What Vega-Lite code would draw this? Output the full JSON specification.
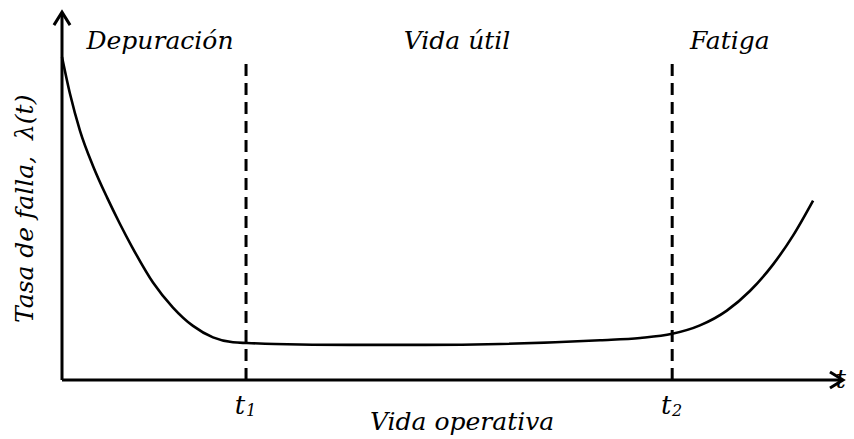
{
  "$schema": "https://vega.github.io/schema/vega-lite/v6.json",
  "width": 854,
  "height": 439,
  "padding": 0,
  "autosize": {"type": "fit", "contains": "padding"},
  "background": "white",
  "config": {"view": {"stroke": null}},
  "datasets": {
    "curve": [
      {"t": 0, "rate": 73.58},
      {"t": 1.87, "rate": 65.19},
      {"t": 4.22, "rate": 56.77},
      {"t": 7.26, "rate": 48.77},
      {"t": 10.54, "rate": 41.59},
      {"t": 13.58, "rate": 35.54},
      {"t": 16.39, "rate": 30.34},
      {"t": 21.31, "rate": 22.21},
      {"t": 25.99, "rate": 16.51},
      {"t": 30.68, "rate": 12.32},
      {"t": 35.36, "rate": 9.72},
      {"t": 40.05, "rate": 8.59},
      {"t": 43.33, "rate": 8.43},
      {"t": 49.88, "rate": 8.2},
      {"t": 67.4, "rate": 8.0},
      {"t": 85.0, "rate": 8.0},
      {"t": 102.6, "rate": 8.2},
      {"t": 126.0, "rate": 9.05},
      {"t": 135.4, "rate": 9.57},
      {"t": 142.9, "rate": 10.52},
      {"t": 149.4, "rate": 12.44},
      {"t": 155.7, "rate": 15.81},
      {"t": 161.1, "rate": 20.27},
      {"t": 166.5, "rate": 26.29},
      {"t": 171.2, "rate": 32.89},
      {"t": 175.9, "rate": 40.87}
    ],
    "axes": [
      {"t": 0, "rate": 0, "t2": 0, "rate2": 83.3},
      {"t": 0, "rate": 0, "t2": 182.5, "rate2": 0}
    ],
    "bounds": [
      {"t": 43.1, "rate": 0, "rate2": 73.6},
      {"t": 142.9, "rate": 0, "rate2": 73.6}
    ],
    "arrowUp": [{"t": 0, "rate": 83.8}],
    "arrowRight": [{"t": 182.9, "rate": 0}],
    "phases": [
      {"t": 22.95, "rate": 77.3, "label": "Depuración"},
      {"t": 92.5, "rate": 77.3, "label": "Vida útil"},
      {"t": 156.4, "rate": 77.3, "label": "Fatiga"},
      {"t": 93.7, "rate": -9.6, "label": "Vida operativa"}
    ],
    "tmain": [
      {"t": 43.1, "rate": -5.9, "label": "t"},
      {"t": 142.9, "rate": -5.9, "label": "t"},
      {"t": 183.8, "rate": 0, "label": "t"}
    ],
    "tsub": [
      {"t": 43.1, "rate": -7.0, "label": "1"},
      {"t": 142.9, "rate": -7.0, "label": "2"}
    ],
    "ytitle": [{"t": -8.7, "rate": 39.0, "label": "Tasa de falla,\u00a0\u00a0λ(t)"}]
  },
  "encoding": {
    "x": {"field": "t", "type": "quantitative", "scale": {"domain": [-14.52, 185.48], "nice": false, "zero": false}, "axis": null},
    "y": {"field": "rate", "type": "quantitative", "scale": {"domain": [-13.44, 86.56], "nice": false, "zero": false}, "axis": null}
  },
  "layer": [
    {
      "data": {"name": "axes"},
      "mark": {"type": "rule", "stroke": "black", "strokeWidth": 3},
      "encoding": {"x2": {"field": "t2"}, "y2": {"field": "rate2"}}
    },
    {
      "data": {"name": "bounds"},
      "mark": {"type": "rule", "stroke": "black", "strokeWidth": 3, "strokeDash": [12, 7]},
      "encoding": {"y2": {"field": "rate2"}}
    },
    {
      "data": {"name": "curve"},
      "mark": {"type": "line", "stroke": "black", "strokeWidth": 2.6, "interpolate": "monotone"},
      "encoding": {}
    },
    {
      "data": {"name": "arrowUp"},
      "mark": {"type": "point", "shape": "M-0.62,1L0,0L0.62,1", "size": 676, "filled": false, "stroke": "black", "strokeWidth": 3, "opacity": 1},
      "encoding": {}
    },
    {
      "data": {"name": "arrowRight"},
      "mark": {"type": "point", "shape": "M-1,-0.62L0,0L-1,0.62", "size": 676, "filled": false, "stroke": "black", "strokeWidth": 3, "opacity": 1},
      "encoding": {}
    },
    {
      "data": {"name": "phases"},
      "mark": {"type": "text", "font": "DejaVu Serif", "fontStyle": "italic", "fontSize": 25, "align": "center", "baseline": "middle", "color": "black"},
      "encoding": {"text": {"field": "label"}}
    },
    {
      "data": {"name": "tmain"},
      "mark": {"type": "text", "font": "DejaVu Serif", "fontStyle": "italic", "fontSize": 26, "align": "center", "baseline": "middle", "dx": -6, "color": "black"},
      "encoding": {"text": {"field": "label"}}
    },
    {
      "data": {"name": "tsub"},
      "mark": {"type": "text", "font": "DejaVu Serif", "fontStyle": "italic", "fontSize": 16, "align": "center", "baseline": "middle", "dx": 5, "color": "black"},
      "encoding": {"text": {"field": "label"}}
    },
    {
      "data": {"name": "ytitle"},
      "mark": {"type": "text", "font": "DejaVu Serif", "fontStyle": "italic", "fontSize": 25, "align": "center", "baseline": "middle", "angle": 270, "color": "black"},
      "encoding": {"text": {"field": "label"}}
    }
  ]
}
